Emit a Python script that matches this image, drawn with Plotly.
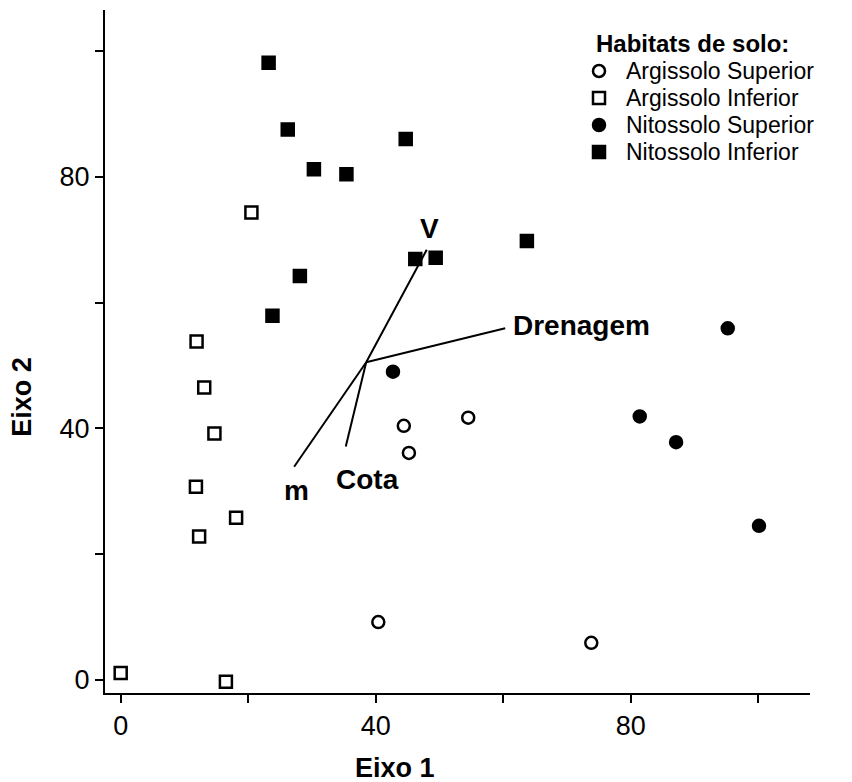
import plotly.graph_objects as go

# Site scores on the first two ordination axes, by soil habitat
habitats = ["Argissolo Superior", "Argissolo Inferior", "Nitossolo Superior", "Nitossolo Inferior"]

arg_sup_x = [44.4, 45.2, 54.5, 40.4, 73.8]
arg_sup_y = [40.4, 36.1, 41.7, 9.2, 5.9]

arg_inf_x = [0.0, 16.5, 20.5, 11.9, 13.1, 14.7, 11.8, 18.1, 12.3]
arg_inf_y = [1.1, -0.3, 74.3, 53.8, 46.5, 39.2, 30.7, 25.8, 22.8]

nit_sup_x = [42.7, 95.2, 81.4, 87.1, 100.1]
nit_sup_y = [49.0, 55.9, 41.9, 37.8, 24.5]

nit_inf_x = [23.2, 26.2, 30.3, 35.4, 44.7, 46.2, 49.4, 63.7, 28.1, 23.8]
nit_inf_y = [98.1, 87.5, 81.2, 80.4, 86.0, 66.9, 67.1, 69.8, 64.2, 57.9]

# Environmental vectors (biplot arrows) from a common origin
vec_origin = (38.5, 50.5)
vec_names = ["V", "m", "Cota", "Drenagem"]
vec_end_x = [48.0, 27.2, 35.3, 60.3]
vec_end_y = [68.4, 33.9, 37.1, 55.9]

x_ticks = [0, 20, 40, 60, 80, 100]
x_ticktext = ["0", "", "40", "", "80", ""]
y_ticks = [0, 20, 40, 60, 80, 100]
y_ticktext = ["0", "", "40", "", "80", ""]

FONT = "Liberation Sans, Arial, sans-serif"

series = [
    (arg_sup_x, arg_sup_y, "circle-open"),
    (arg_inf_x, arg_inf_y, "square-open"),
    (nit_sup_x, nit_sup_y, "circle"),
    (nit_inf_x, nit_inf_y, "square"),
]

fig = go.Figure()

for (xs, ys, sym), name in zip(series, habitats):
    fig.add_trace(go.Scatter(
        x=xs, y=ys, mode="markers", name=name, showlegend=False,
        marker=dict(symbol=sym, size=12, color="black",
                    line=dict(color="black", width=2.5)),
    ))

for ex, ey in zip(vec_end_x, vec_end_y):
    fig.add_trace(go.Scatter(
        x=[vec_origin[0], ex], y=[vec_origin[1], ey], mode="lines",
        showlegend=False, line=dict(color="black", width=2),
    ))

# Vector labels placed beside each arrow tip
label_style = {
    "V": dict(xanchor="center", yanchor="bottom", xshift=3, yshift=4),
    "m": dict(xanchor="center", yanchor="top", xshift=2, yshift=-6),
    "Cota": dict(xanchor="center", yanchor="top", xshift=22, yshift=-15),
    "Drenagem": dict(xanchor="left", yanchor="middle", xshift=6, yshift=3),
}
for name, ex, ey in zip(vec_names, vec_end_x, vec_end_y):
    fig.add_annotation(x=ex, y=ey, text=f"<b>{name}</b>", showarrow=False,
                       font=dict(family=FONT, size=28, color="black"),
                       **label_style[name])

# Axis titles
fig.add_annotation(x=43, y=-0.11, xref="x", yref="paper", text="<b>Eixo 1</b>",
                   showarrow=False, xanchor="center", yanchor="middle",
                   font=dict(family=FONT, size=27, color="black"))
fig.add_annotation(x=-0.118, y=45, xref="paper", yref="y", text="<b>Eixo 2</b>",
                   showarrow=False, textangle=-90, xanchor="center", yanchor="middle",
                   font=dict(family=FONT, size=27, color="black"))

# Legend drawn by hand for tight row spacing
W, H = 852, 782
L, R, T, B = 105, 42, 10, 89
pw, ph = W - L - R, H - T - B

def px(xp):
    return (xp - L) / pw

def py(yp):
    return (H - B - yp) / ph

fig.add_annotation(x=px(594), y=py(43), xref="paper", yref="paper",
                   text="<b>Habitats de solo:</b>", showarrow=False,
                   xanchor="left", yanchor="middle",
                   font=dict(family=FONT, size=24, color="black"))

row_y = [71, 98, 125, 152]
shape_kind = ["circle", "rect", "circle", "rect"]
filled = [False, False, True, True]
for name, yy, kind, fill in zip(habitats, row_y, shape_kind, filled):
    fig.add_shape(type=kind, xref="paper", yref="paper",
                  xsizemode="pixel", ysizemode="pixel",
                  xanchor=px(599), yanchor=py(yy),
                  x0=-6, x1=6, y0=-6, y1=6,
                  line=dict(color="black", width=2.5),
                  fillcolor="black" if fill else "white")
    fig.add_annotation(x=px(624), y=py(yy), xref="paper", yref="paper",
                       text=name, showarrow=False, xanchor="left", yanchor="middle",
                       font=dict(family=FONT, size=23, color="black"))

axis_common = dict(
    showline=True, linecolor="black", linewidth=2, mirror=False,
    ticks="outside", ticklen=8, tickwidth=2, tickcolor="black",
    showgrid=False, zeroline=False,
    tickfont=dict(family=FONT, size=27, color="black"),
)

fig.update_xaxes(range=[-2.46, 108.1], tickvals=x_ticks, ticktext=x_ticktext, **axis_common)
fig.update_yaxes(range=[-2.07, 106.5], tickvals=y_ticks, ticktext=y_ticktext, **axis_common)

fig.update_layout(
    width=W, height=H,
    margin=dict(l=L, r=R, t=T, b=B),
    plot_bgcolor="white", paper_bgcolor="white",
    font=dict(family=FONT, color="black"),
)

fig.write_html("out.html")
